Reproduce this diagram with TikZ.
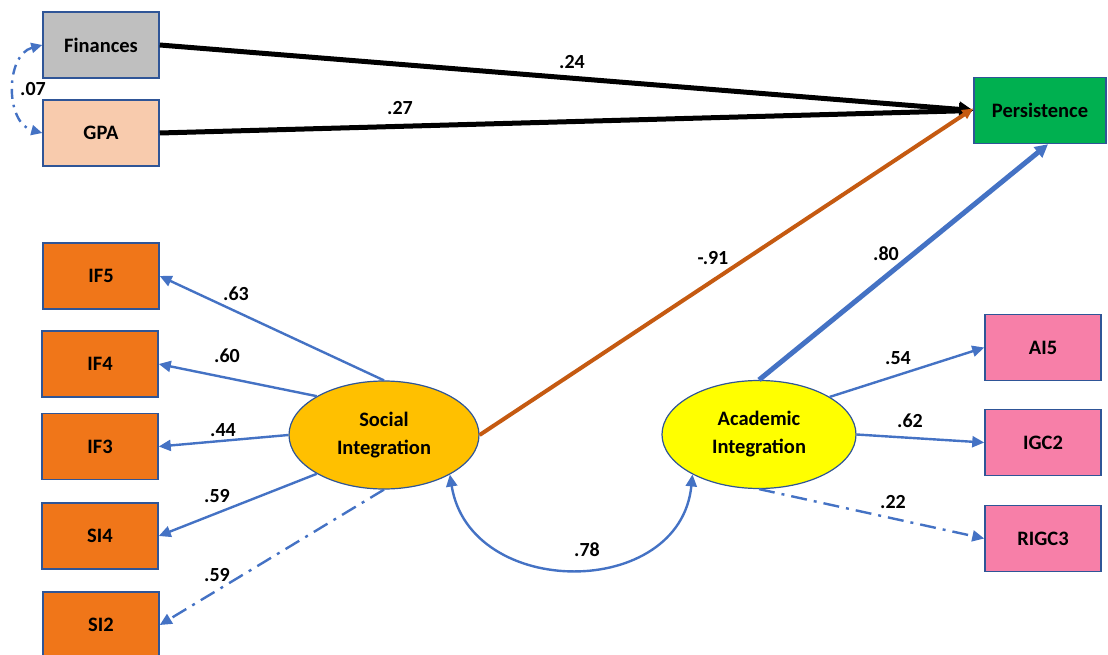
\documentclass[tikz,border=0pt]{standalone}
\usepackage{fontspec}
\setmainfont{Carlito}
\usetikzlibrary{arrows.meta,shapes.geometric}

\definecolor{edgeblue}{HTML}{4472C4}
\definecolor{boxline}{HTML}{2F5597}
\definecolor{finfill}{HTML}{BFBFBF}
\definecolor{gpafill}{HTML}{F8CBAD}
\definecolor{orfill}{HTML}{F07619}
\definecolor{pinkfill}{HTML}{F77FA8}
\definecolor{greenfill}{HTML}{00B050}
\definecolor{socfill}{HTML}{FFC000}
\definecolor{acafill}{HTML}{FFFF00}
\definecolor{negline}{HTML}{C55A11}

\tikzset{
  obsbox/.style={draw=boxline, line width=1.5pt, minimum width=116pt, minimum height=66pt,
    inner sep=0pt, font=\fontsize{20.5}{24}\selectfont\bfseries},
  latent/.style={ellipse, draw=boxline, line width=1.2pt, minimum width=190pt, minimum height=108pt,
    inner sep=0pt, align=center, font=\fontsize{20.5}{28}\selectfont\bfseries},
  coef/.style={font=\fontsize{20}{22}\selectfont\bfseries, inner sep=0pt},
  load/.style={draw=edgeblue, line width=2.4pt, -{Triangle[length=12pt,width=11pt]}},
  dashdot/.style={dash pattern=on 16pt off 7pt on 3pt off 7pt},
  direct/.style={draw=black, line width=5pt, -{Triangle[length=14pt,width=15pt]}},
}

\begin{document}
\begin{tikzpicture}[x=1pt,y=-1pt]
\useasboundingbox (0,0) rectangle (1108,655);

% observed exogenous variables and outcome
\node[obsbox, fill=finfill] (fin) at (101,45) {Finances};
\node[obsbox, fill=gpafill] (gpa) at (101,133) {GPA};
\node[obsbox, fill=greenfill, minimum width=132pt] (per) at (1040,110.5) {Persistence};

% indicators of social integration
\node[obsbox, fill=orfill] (if5) at (101,276) {IF5};
\node[obsbox, fill=orfill] (if4) at (100,364) {IF4};
\node[obsbox, fill=orfill] (if3) at (100,446.5) {IF3};
\node[obsbox, fill=orfill] (si4) at (100,536) {SI4};
\node[obsbox, fill=orfill] (si2) at (101,625) {SI2};

% indicators of academic integration
\node[obsbox, fill=pinkfill] (ai5) at (1043,347.5) {AI5};
\node[obsbox, fill=pinkfill] (igc2) at (1043,442.5) {IGC2};
\node[obsbox, fill=pinkfill] (rigc3) at (1043,538.5) {RIGC3};

% latent constructs
\node[latent, fill=socfill] (soc) at (384,435) {Social\\Integration};
\node[latent, fill=acafill, minimum width=194pt] (aca) at (759,434.5) {Academic\\Integration};

% direct paths to persistence
\draw[direct] (fin.east) -- (per.west);
\draw[direct] (gpa.east) -- (per.west);
\draw[draw=negline, line width=4pt, -{Triangle[length=11pt,width=10pt]}] (soc.east) -- ([yshift=2pt]per.west);
\draw[load, line width=5pt, -{Triangle[length=13pt,width=13pt]}] (aca.north) -- ([xshift=8pt]per.south);

% loadings of social integration
\draw[load] (soc.north) -- (if5.east);
\draw[load] (soc.150) -- (if4.east);
\draw[load] (soc.west) -- (if3.east);
\draw[load] (soc.210) -- (si4.east);
\draw[load, dashdot] (soc.south) -- (si2.east);

% loadings of academic integration
\draw[load] (aca.28) -- (ai5.west);
\draw[load] (aca.east) -- (igc2.west);
\draw[load, dashdot] (aca.south) -- (rigc3.west);

% covariances
\draw[draw=edgeblue, line width=2.4pt, {Triangle[length=12pt,width=11pt]}-{Triangle[length=12pt,width=11pt]}]
  (soc.-31) .. controls (470,600) and (680,600) .. (aca.-149);
\draw[draw=edgeblue, line width=2.4pt, dash pattern=on 10pt off 6pt on 2.5pt off 6pt,
  {Triangle[length=11pt,width=10pt]}-{Triangle[length=11pt,width=10pt]}]
  (fin.west) .. controls (5,55) and (5,123) .. (gpa.west);

% coefficients
\node[coef] (c24) at (572,62) {.24};
\node[coef] (c27) at (400,108) {.27};
\node[coef] (c07) at (33,89) {.07};
\node[coef] (c63) at (236,294) {.63};
\node[coef] (c60) at (227,356) {.60};
\node[coef] (c44) at (223,430) {.44};
\node[coef] (c59a) at (217,496) {.59};
\node[coef] (c59b) at (217,575) {.59};
\node[coef] (c91) at (713,258) {-.91};
\node[coef] (c80) at (886,254) {.80};
\node[coef] (c54) at (898,358) {.54};
\node[coef] (c62) at (910,421) {.62};
\node[coef] (c22) at (893,502) {.22};
\node[coef] (c78) at (587,550) {.78};
\end{tikzpicture}
\end{document}
